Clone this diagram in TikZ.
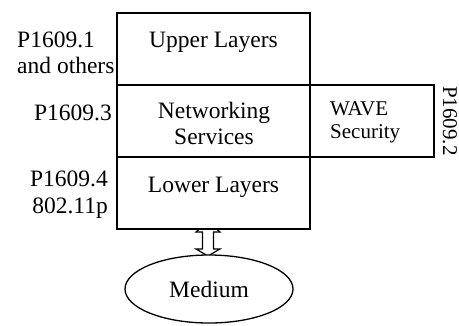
\documentclass[tikz,border=0pt]{standalone}
\usepackage{fontspec}
\setmainfont{Liberation Serif}
\usetikzlibrary{shapes.geometric}
\begin{document}
\begin{tikzpicture}[x=1bp,y=-1bp,
  layer/.style={draw, line width=1.3bp, fill=white, inner sep=0pt,
    minimum width=193bp, minimum height=72bp},
  txt/.style={font=\fontsize{23.5bp}{26bp}\selectfont, inner sep=0pt, anchor=base},
  small/.style={font=\fontsize{21bp}{23bp}\selectfont, inner sep=0pt}]
\useasboundingbox (0,0) rectangle (459,325);

% interface arrow between the stack and the medium
\coordinate (arrowtop) at (208,221);
\coordinate (arrowbot) at (208,256);
\draw[line width=1.2bp, fill=white]
  (arrowtop) -- ++(12,11) -- ++(-6.5,0) -- ++(0,17) -- ++(6.5,0)
  -- (arrowbot) -- ++(-12,-7) -- ++(6.5,0) -- ++(0,-17) -- ++(-6.5,0) -- cycle;

% protocol stack
\node[layer] (upper) at (213.5,49) {};
\node[layer] (net)   at (213.5,121) {};
\node[layer] (lower) at (213.5,193) {};
\node[layer, minimum width=124bp] (wave) at (372,121) {};

\node[txt] (upperT) at (213.5,47) {Upper Layers};
\node[txt] (netT1) at (214,118) {Networking};
\node[txt] (netT2) at (214,144) {Services};
\node[txt] (lowerT) at (213.5,192) {Lower Layers};
\node[small, anchor=base west] (waveT1) at (330,115) {WAVE};
\node[small, anchor=base west] (waveT2) at (330,138) {Security};

% medium
\node[draw, ellipse, line width=1.3bp, fill=white, minimum width=168bp,
  minimum height=68bp, inner sep=0pt,
  font=\fontsize{23.5bp}{26bp}\selectfont] (medium) at (209,289) {Medium};

% standard labels
\node[txt, anchor=base west] (s1a) at (17,47) {P1609.1};
\node[txt, anchor=base west] (s1b) at (17,73) {and others};
\node[txt, anchor=base east] (s3) at (112,120) {P1609.3};
\node[txt, anchor=base east] (s4a) at (108,186) {P1609.4};
\node[txt, anchor=base east] (s4b) at (108,213) {802.11p};
\node[small, anchor=base west, rotate=-90] (s2) at (443,86) {P1609.2};
\end{tikzpicture}
\end{document}
